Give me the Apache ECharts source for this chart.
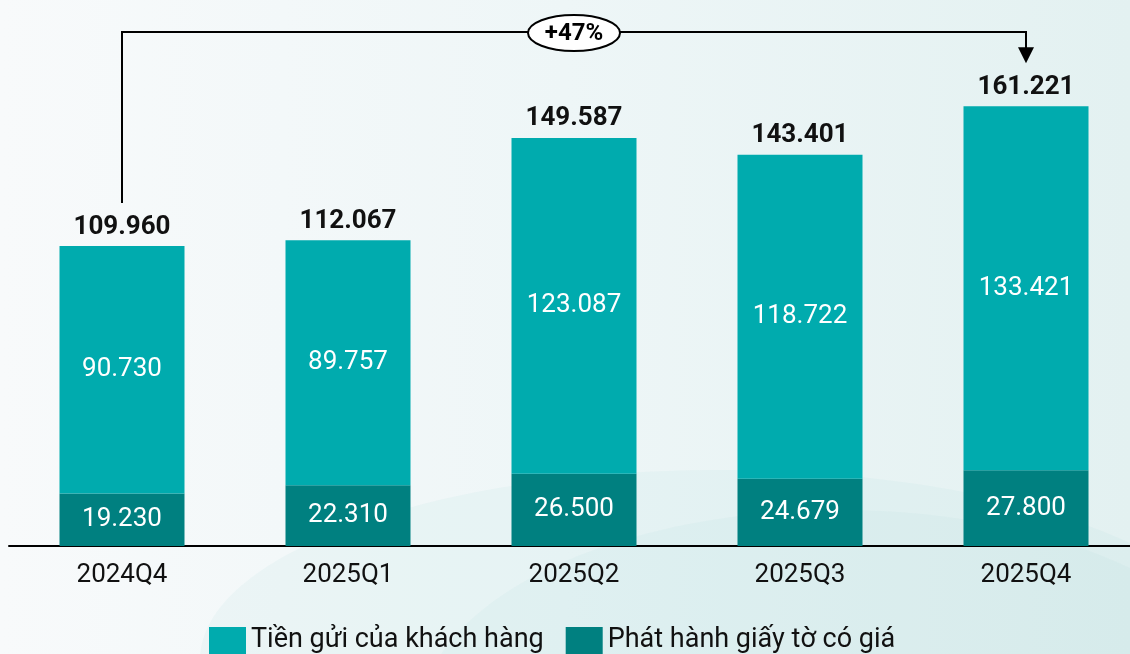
<!DOCTYPE html>
<html>
<head>
<meta charset="utf-8">
<script src="https://cdn.jsdelivr.net/npm/echarts@6/dist/echarts.min.js"></script>
<style>
  html, body { margin: 0; padding: 0; }
  #chart { width: 1130px; height: 654px; }
</style>
</head>
<body>
<div id="chart"></div>
<script>
let categories = ['2024Q4', '2025Q1', '2025Q2', '2025Q3', '2025Q4'];
let giayToCoGia = [19.230, 22.310, 26.500, 24.679, 27.800];
let tienGuiKH = [90.730, 89.757, 123.087, 118.722, 133.421];
let tongCong = [109.960, 112.067, 149.587, 143.401, 161.221];
let growthText = '+47%';

let fmt = function (v) {
    return v.toFixed(3);
};

let dom = document.getElementById('chart');
let myChart = echarts.init(dom);

let option = {
    backgroundColor: {
        type: 'linear', x: 0, y: 0, x2: 1, y2: 0,
        colorStops: [
            {offset: 0, color: '#f8fafb'},
            {offset: 0.5, color: '#eef6f7'},
            {offset: 1, color: '#e3f1f1'}
        ]
    },
    textStyle: {fontFamily: 'Roboto'},
    animation: false,
    grid: {left: 9, width: 1130, top: 55, bottom: 108, outerBoundsMode: 'none', containLabel: false},
    legend: {
        data: ['Tiền gửi của khách hàng', 'Phát hành giấy tờ có giá'],
        left: 204,
        top: 622,
        icon: 'rect',
        itemWidth: 37,
        itemHeight: 27,
        itemGap: 22,
        itemTextGap: 10,
        textStyle: {fontSize: 27, color: '#111', fontFamily: 'Roboto'}
    },
    xAxis: {
        type: 'category',
        data: categories,
        axisLine: {lineStyle: {color: '#000', width: 2}},
        axisTick: {show: false},
        axisLabel: {fontSize: 26, color: '#111', margin: 16, fontFamily: 'Roboto'}
    },
    yAxis: {
        type: 'value',
        min: 0,
        max: 180,
        show: false,
        splitLine: {show: false}
    },
    series: [
        {
            name: 'Phát hành giấy tờ có giá',
            type: 'bar',
            stack: 'total',
            barWidth: 125,
            data: giayToCoGia,
            itemStyle: {color: '#008080'},
            label: {
                show: true,
                position: 'inside',
                color: '#fff',
                fontSize: 26,
                formatter: function (p) { return fmt(p.value); }
            }
        },
        {
            name: 'Tiền gửi của khách hàng',
            type: 'bar',
            stack: 'total',
            barWidth: 125,
            data: tienGuiKH,
            itemStyle: {color: '#00abae'},
            label: {
                show: true,
                position: 'inside',
                color: '#fff',
                fontSize: 26,
                formatter: function (p) { return fmt(p.value); }
            }
        },
        {
            name: 'Tổng',
            type: 'bar',
            stack: 'total',
            barWidth: 125,
            data: tongCong.map(function () { return 0; }),
            itemStyle: {color: 'transparent'},
            label: {
                show: true,
                position: 'top',
                distance: 6,
                color: '#111',
                fontSize: 26,
                fontWeight: 'bold',
                formatter: function (p) { return fmt(tongCong[p.dataIndex]); }
            }
        }
    ]
};

myChart.setOption(option, true);

// mũi tên tăng trưởng
let p0 = myChart.convertToPixel({gridIndex: 0}, [0, tongCong[0]]);
let p4 = myChart.convertToPixel({gridIndex: 0}, [4, tongCong[4]]);
let topY = 32;
let startY = p0[1] - 43;
let tipY = p4[1] - 43;
let midX = (p0[0] + p4[0]) / 2;

myChart.setOption({
    graphic: [
        {
            type: 'ellipse', silent: true, z: -10,
            shape: {cx: 720, cy: 660, rx: 520, ry: 190},
            style: {fill: 'rgba(175,218,218,0.12)'}
        },
        {
            type: 'ellipse', silent: true, z: -10,
            shape: {cx: 840, cy: 720, rx: 420, ry: 210},
            style: {fill: 'rgba(165,212,212,0.10)'}
        },
        {
            type: 'polyline', silent: true,
            shape: {points: [[p0[0], startY], [p0[0], topY], [p4[0], topY], [p4[0], tipY - 14]]},
            style: {stroke: '#000', lineWidth: 2, fill: null}
        },
        {
            type: 'polygon', silent: true,
            shape: {points: [[p4[0] - 8, tipY - 16], [p4[0] + 8, tipY - 16], [p4[0], tipY]]},
            style: {fill: '#000'}
        },
        {
            type: 'ellipse', silent: true,
            shape: {cx: midX, cy: topY + 1, rx: 46, ry: 18},
            style: {fill: '#fff', stroke: '#000', lineWidth: 2}
        },
        {
            type: 'text', silent: true,
            x: midX, y: topY + 2,
            style: {
                text: growthText,
                fontSize: 24,
                fontWeight: 'bold',
                fontFamily: 'Roboto',
                fill: '#000',
                align: 'center',
                verticalAlign: 'middle'
            }
        }
    ]
});
</script>
</body>
</html>
